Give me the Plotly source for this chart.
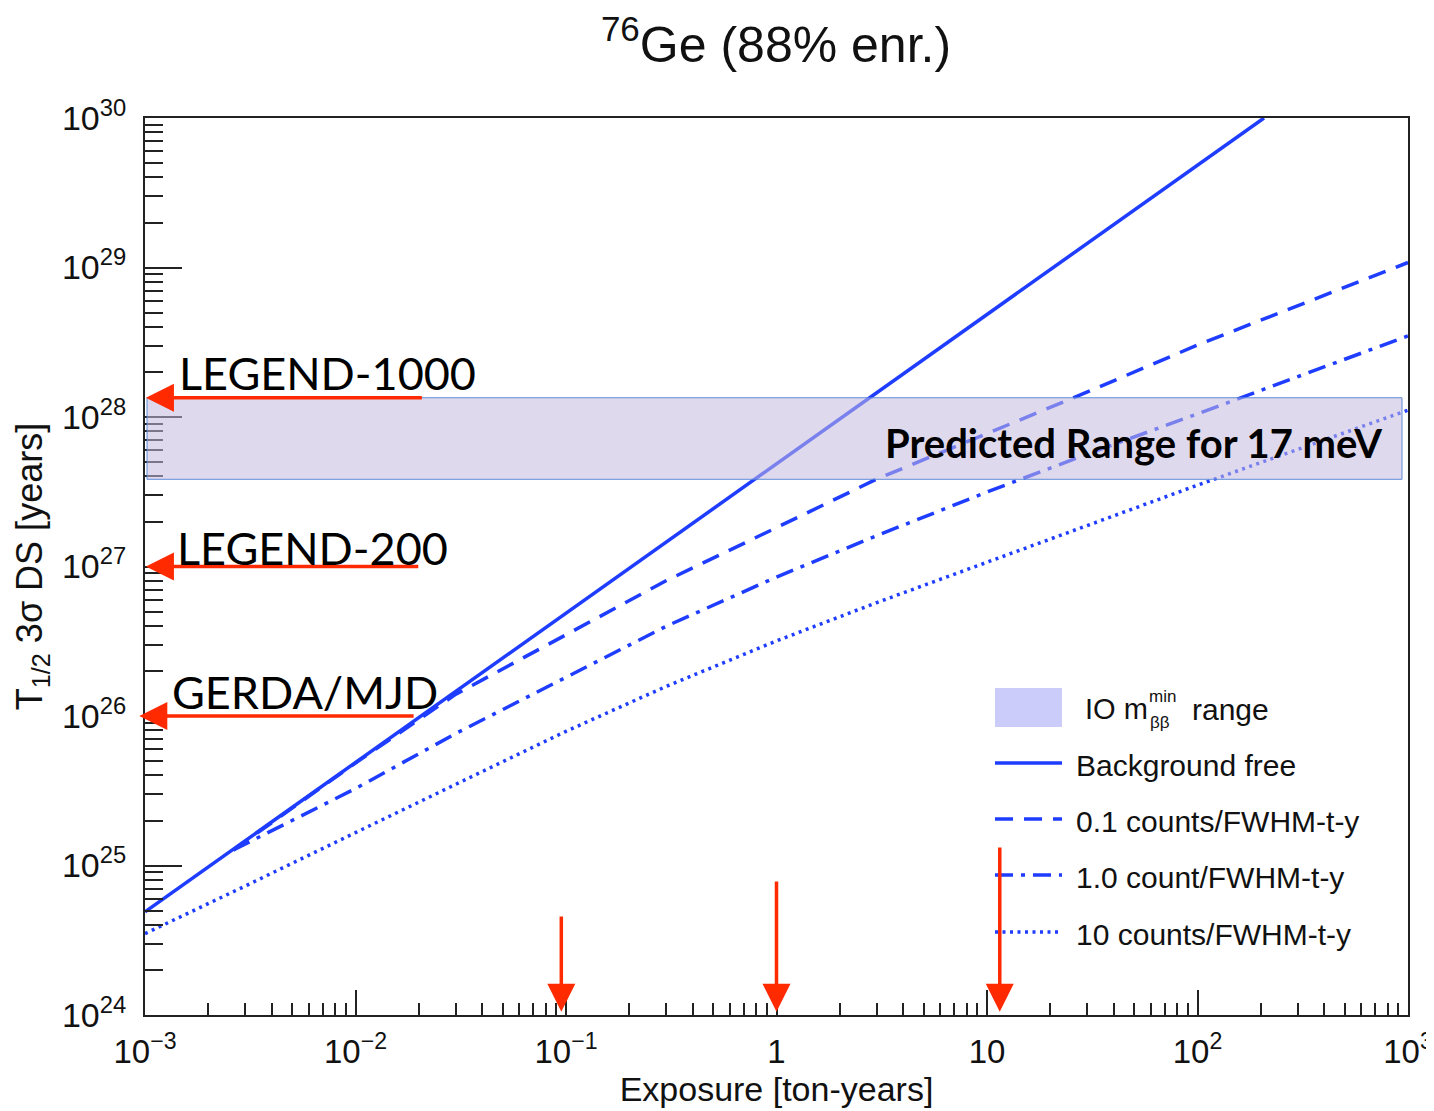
import math
import plotly.graph_objects as go

# ---------------- data ----------------
bf_exposure = [1e-3, 1e-2, 1e-1, 1, 10, 100, 207]
bf_halflife = [4.9e24, 4.9e25, 4.9e26, 4.9e27, 4.9e28, 4.9e29, 1.0e30]

b01_exposure = [2.63e-3, 0.01, 0.03, 0.1, 0.3, 1, 3, 10, 30, 100, 300, 1000]
b01_halflife = [1.27e25, 4.85e25, 1.40e26, 3.48e26, 8.05e26, 1.82e27, 3.85e27,
                7.75e27, 1.47e28, 3.03e28, 5.56e28, 1.08e29]

b1_exposure = [2.63e-3, 0.01, 0.03, 0.1, 0.3, 1, 3, 10, 30, 100, 300, 1000]
b1_halflife = [1.27e25, 3.27e25, 7.65e25, 1.82e26, 3.99e26, 8.5e26, 1.61e27,
               3.15e27, 5.65e27, 1.05e28, 1.86e28, 3.49e28]

b10_exposure = [1e-3, 3e-3, 0.01, 0.03, 0.1, 0.3, 1, 3, 10, 30, 100, 300, 1000]
b10_halflife = [3.5e24, 7.3e24, 1.66e25, 3.49e25, 7.9e25, 1.58e26, 3.18e26,
                5.74e26, 1.07e27, 1.9e27, 3.5e27, 6.08e27, 1.11e28]

band_halflife = [3.83e27, 1.345e28]   # predicted range for 17 meV

exp_names = ["LEGEND-1000", "LEGEND-200", "GERDA/MJD"]
exp_halflife = [1.345e28, 1.0e27, 1.0e26]
exp_tail_exposure = [0.021, 0.0202, 0.0192]
exp_head_exposure = [1.01e-3, 1.01e-3, 0.94e-3]

vert_exposure = [0.095, 1.0, 11.5]
vert_tail_halflife = [4.67e24, 8.0e24, 1.35e25]
vert_head_halflife = 1.05e24

x_tickvals = [1e-3, 1e-2, 1e-1, 1, 10, 1e2, 1e3]
x_ticktext = ["10<sup>\u22123</sup>", "10<sup>\u22122</sup>", "10<sup>\u22121</sup>",
              "1", "10", "10<sup>2</sup>", "10<sup>3</sup>"]
y_tickvals = [1e24, 1e25, 1e26, 1e27, 1e28, 1e29, 1e30]
y_ticktext = ["10<sup>24</sup>", "10<sup>25</sup>", "10<sup>26</sup>", "10<sup>27</sup>",
              "10<sup>28</sup>", "10<sup>29</sup>", "10<sup>30</sup>"]

legend_labels = ["Background free", "0.1 counts/FWHM-t-y",
                 "1.0 count/FWHM-t-y", "10 counts/FWHM-t-y"]

# ---------------- styles ----------------
BLUE = "#1f3dff"
RED = "#ff2a00"
HELV = "Liberation Sans, Arial, Helvetica, sans-serif"
CALI = "Lato, Carlito, Calibri, sans-serif"
LW = 3.5
dashes = ["solid", "18px,11px", "18px,8px,4px,8px", "3px,4.5px"]

OFF = 8                      # page body margin
SW, SH = 1434, 1111          # screenshot size
WF, HF = SW - OFF, SH - OFF  # figure size
PL, PR, PT, PB = 145, 1408, 118, 1015   # plot frame in screenshot pixels
L, T = PL - OFF, PT - OFF
R, B = WF - (PR - OFF), HF - (PB - OFF)
PW, PH = PR - PL, PB - PT


def px(x):
    return (x - PL) / PW


def py(y):
    return (PB - y) / PH


fig = go.Figure()
series = [(bf_exposure, bf_halflife), (b01_exposure, b01_halflife),
          (b1_exposure, b1_halflife), (b10_exposure, b10_halflife)]
for (xs, ys), d, name in zip(series, dashes, legend_labels):
    fig.add_trace(go.Scatter(x=xs, y=ys, mode="lines", name=name,
                             line=dict(color=BLUE, width=LW, dash=d),
                             showlegend=False))

shapes = []
shapes.append(dict(type="rect", xref="paper", yref="y", layer="above",
                   x0=px(147), x1=px(1402), y0=band_halflife[0], y1=band_halflife[1],
                   fillcolor="rgba(196,186,222,0.55)",
                   line=dict(color="rgba(80,130,215,0.9)", width=1)))

# manual legend
shapes.append(dict(type="rect", xref="paper", yref="paper", layer="above",
                   x0=px(995), x1=px(1062), y0=py(727), y1=py(688),
                   fillcolor="#ccccfa", line=dict(width=0)))
leg_y = [763, 819, 875, 932]
for yy, d in zip(leg_y, dashes):
    shapes.append(dict(type="line", xref="paper", yref="paper", layer="above",
                       x0=px(995), x1=px(1062), y0=py(yy), y1=py(yy),
                       line=dict(color=BLUE, width=LW, dash=d)))

annotations = []
for yy, t in zip(leg_y, legend_labels):
    annotations.append(dict(xref="paper", yref="paper", x=px(1074), y=py(yy + 2),
                            text=t, showarrow=False, xanchor="left", yanchor="middle",
                            font=dict(family=HELV, size=30, color="#111")))
annotations.append(dict(xref="paper", yref="paper", x=px(1083), y=py(709),
                        text="IO m", showarrow=False, xanchor="left", yanchor="middle",
                        font=dict(family=HELV, size=29, color="#111")))
annotations.append(dict(xref="paper", yref="paper", x=px(1147), y=py(696),
                        text="min", showarrow=False, xanchor="left", yanchor="middle",
                        font=dict(family=HELV, size=17, color="#111")))
annotations.append(dict(xref="paper", yref="paper", x=px(1148), y=py(723),
                        text="\u03b2\u03b2", showarrow=False, xanchor="left", yanchor="middle",
                        font=dict(family=HELV, size=17, color="#111")))
annotations.append(dict(xref="paper", yref="paper", x=px(1190), y=py(709),
                        text="range", showarrow=False, xanchor="left", yanchor="middle",
                        font=dict(family=HELV, size=30, color="#111")))

annotations.append(dict(xref="paper", yref="paper", x=px(1384), y=py(443),
                        text="<b>Predicted Range for 17 meV</b>", showarrow=False,
                        xanchor="right", yanchor="middle",
                        font=dict(family=CALI, size=40, color="black")))

label_pos = [(177, 373), (175, 548), (170, 692)]
for name, hl, et, eh, (lx, ly) in zip(exp_names, exp_halflife, exp_tail_exposure,
                                      exp_head_exposure, label_pos):
    annotations.append(dict(xref="x", yref="y", axref="x", ayref="y",
                            x=math.log10(eh), y=math.log10(hl),
                            ax=math.log10(et), ay=math.log10(hl),
                            text="", showarrow=True, arrowhead=2, arrowsize=1.6,
                            arrowwidth=3.5, arrowcolor=RED, standoff=0))
    annotations.append(dict(xref="paper", yref="paper", x=px(lx), y=py(ly),
                            text=name, showarrow=False, xanchor="left", yanchor="middle",
                            font=dict(family=CALI, size=45, color="black")))

for ex, tl in zip(vert_exposure, vert_tail_halflife):
    annotations.append(dict(xref="x", yref="y", axref="x", ayref="y",
                            x=math.log10(ex), y=math.log10(vert_head_halflife),
                            ax=math.log10(ex), ay=math.log10(tl),
                            text="", showarrow=True, arrowhead=2, arrowsize=1.6,
                            arrowwidth=3.5, arrowcolor=RED, standoff=0))


def minor_vals(lo, hi):
    out = []
    for d in range(lo, hi):
        for k in range(2, 10):
            out.append(k * 10.0 ** d)
    return out


fig.update_layout(
    width=WF, height=HF,
    margin=dict(l=L, r=R, t=T, b=B, autoexpand=False),
    paper_bgcolor="white", plot_bgcolor="white",
    shapes=shapes, annotations=annotations,
    title=dict(text="<sup>76</sup>Ge (88% enr.)", x=(776 - OFF) / WF, xanchor="center",
               y=1 - (44 - OFF) / HF, yanchor="middle",
               font=dict(family=HELV, size=50, color="#111")),
    xaxis=dict(type="log", range=[-3, 3], tickmode="array", tickvals=x_tickvals,
               ticktext=x_ticktext, ticks="inside", ticklen=25, tickwidth=1.5,
               tickcolor="#222", showline=True, linecolor="#222", linewidth=2,
               mirror=True, showgrid=False, zeroline=False,
               tickfont=dict(family=HELV, size=33, color="#111"),
               ticklabelstandoff=6,
               minor=dict(tickmode="array", tickvals=minor_vals(-3, 3), ticks="inside",
                          ticklen=12, tickwidth=1.5, tickcolor="#222", showgrid=False),
               title=dict(text="Exposure [ton-years]", standoff=2,
                          font=dict(family=HELV, size=34, color="#111"))),
    yaxis=dict(type="log", range=[24, 30], tickmode="array", tickvals=y_tickvals,
               ticktext=y_ticktext, ticks="inside", ticklen=37, tickwidth=1.5,
               tickcolor="#222", showline=True, linecolor="#222", linewidth=2,
               mirror=True, showgrid=False, zeroline=False,
               tickfont=dict(family=HELV, size=34, color="#111"),
               ticklabelstandoff=10,
               minor=dict(tickmode="array", tickvals=minor_vals(24, 30), ticks="inside",
                          ticklen=18, tickwidth=1.5, tickcolor="#222", showgrid=False),
               title=dict(text="T<sub>1/2</sub> 3\u03c3 DS [years]", standoff=8,
                          font=dict(family=HELV, size=36, color="#111"))),
)

fig.write_html("out.html")
